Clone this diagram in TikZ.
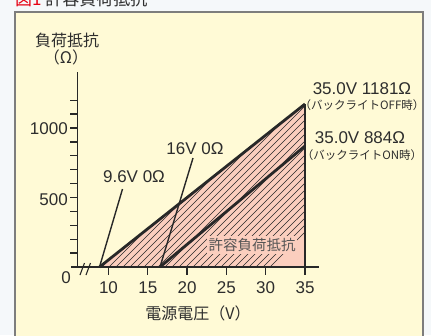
\documentclass[tikz,border=0pt]{standalone}
\usepackage{fontspec}
\setmainfont{Liberation Sans}
\newfontfamily\jp{Noto Sans CJK JP}
\definecolor{outbg}{RGB}{245,248,250}
\definecolor{panel}{RGB}{255,250,214}
\definecolor{panelline}{RGB}{125,125,125}
\definecolor{pinkfill}{RGB}{251,206,190}
\definecolor{titlered}{RGB}{230,0,18}
\definecolor{ink}{RGB}{40,40,40}
\definecolor{txt}{RGB}{45,45,45}
\definecolor{graytxt}{RGB}{85,85,85}
\tikzset{
  numlbl/.style={inner sep=0, text=txt, font=\fontsize{17}{20}\selectfont},
  jplbl/.style={inner sep=0, text=txt, font=\jp\fontsize{16}{19}\selectfont},
  smalljp/.style={inner sep=0, text=txt, font=\jp\fontsize{11.5}{14}\selectfont},
  axisline/.style={draw=ink, line width=1.3pt},
  thickline/.style={draw=ink, line width=2.8pt},
  callout/.style={draw=ink, line width=1.4pt},
  hatchline/.style={draw=ink, line width=0.6pt}
}
\begin{document}
\begin{tikzpicture}[x=1pt,y=-1pt]
\useasboundingbox (0,0) rectangle (431,335);
\fill[outbg] (0,0) rectangle (431,335);
\draw[panelline, fill=panel, line width=1.5pt] (15,12) rectangle (423,345);
% title
\node[anchor=base west, inner sep=0, text=txt, font=\jp\fontsize{17}{20}\selectfont] (title) at (15,5) {\textcolor{titlered}{図1} 許容負荷抵抗};
% key points
\coordinate (A) at (99.5,267);
\coordinate (B) at (160,267);
\coordinate (T) at (305,104);
\coordinate (M) at (305,146);
\coordinate (R) at (305,267);
% region
\fill[pinkfill] (A) -- (T) -- (R) -- cycle;
\begin{scope}
  \clip (A) -- (T) -- (R) -- cycle;
  \foreach \i in {0,...,50} {
    \draw[hatchline] ({-80+\i*7},267) -- ++(180,-180);
  }
\end{scope}
\node[jplbl, text=graytxt, fill=pinkfill, inner xsep=1.5pt, inner ysep=2pt, font=\jp\fontsize{14.5}{17}\selectfont] (area) at (252,245) {許容負荷抵抗};
% axes
\draw[axisline] (71,267) -- (319,267);
\draw[axisline] (77.5,72) -- (77.5,267.6);
\draw[ink, line width=1.1pt] (80,275) -- (84.5,263);
\draw[ink, line width=1.1pt] (86,275) -- (90.5,263);
\foreach \k in {1,...,12} {
  \draw[axisline] (70,{267-\k*13.9}) -- (77.5,{267-\k*13.9});
}
\foreach \v/\nm in {10/xa,15/xb,20/xc,25/xd,30/xe,35/xf} {
  \draw[axisline] ({108.5+(\v-10)*7.86},267) -- ({108.5+(\v-10)*7.86},275);
  \node[numlbl] (\nm) at ({108.5+(\v-10)*7.86},288) {\v};
}
\node[numlbl] (y0) at (66,278) {0};
\node[numlbl, anchor=east] (y500) at (68,199.5) {500};
\node[numlbl, anchor=east] (y1000) at (68,128.5) {1000};
% axis titles
\node[jplbl] (ytitle) at (67,40) {負荷抵抗};
\node[jplbl] (yunit) at (66,57) {（Ω）};
\node[jplbl] (xtitle) at (198,313) {電源電圧（V）};
% region lines
\draw[thickline] (A) -- (T);
\draw[thickline] (B) -- (M);
\draw[thickline] (T) -- (R);
% callouts
\node[numlbl] (l96) at (134,177) {9.6V 0Ω};
\node[numlbl] (l16) at (195,149) {16V 0Ω};
\coordinate (c96) at (122.5,189);
\coordinate (c16) at (193,158);
\draw[callout] (c96) -- (A);
\draw[callout] (c16) -- (B);
\node[numlbl] (lt) at (362,89) {35.0V 1181Ω};
\node[smalljp] (ltoff) at (362,105) {（バックライトOFF時）};
\node[numlbl] (lm) at (360,138) {35.0V 884Ω};
\node[smalljp] (lmon) at (362,155) {（バックライトON時）};
\end{tikzpicture}
\end{document}
